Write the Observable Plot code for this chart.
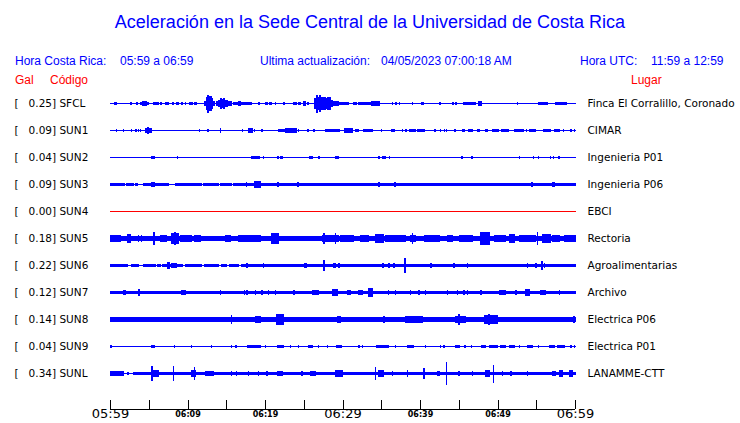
<!DOCTYPE html>
<html><head><meta charset="utf-8">
<script src="https://cdn.jsdelivr.net/npm/d3@7"></script>
<script src="https://cdn.jsdelivr.net/npm/@observablehq/plot@0.6"></script>
<style>
body{margin:0;background:#fff;}
#wrap{width:740px;height:423px;overflow:hidden;}
#head{position:relative;width:740px;height:88px;font-family:"Liberation Sans",Arial,sans-serif;}
#head div{position:absolute;white-space:pre;font-size:12px;line-height:14px;color:#0000ff;}
#head div.title{left:0;width:740px;text-align:center;top:11px;font-size:18px;line-height:22px;}
#head div.red{color:#ff0000;}
#chart svg{display:block;}
</style></head><body>
<div id="wrap"><div id="head"></div><div id="chart"></div></div>
<script>
// ---------- texts ----------
const titleText = "Aceleración en la Sede Central de la Universidad de Costa Rica";
const headerRow1 = [["Hora Costa Rica:",15],["05:59 a 06:59",120],["Ultima actualización:",260],["04/05/2023 07:00:18 AM",381],["Hora UTC:",580],["11:59 a 12:59",651]];
const headerRow2 = [["Gal",15],["Código",50],["Lugar",631]];

// ---------- stations ----------
const stations = ["SFCL","SUN1","SUN2","SUN3","SUN4","SUN5","SUN6","SUN7","SUN8","SUN9","SUNL"];
const places = ["Finca El Corralillo, Coronado","CIMAR","Ingenieria P01","Ingenieria P06","EBCI","Rectoria","Agroalimentarias","Archivo","Electrica P06","Electrica P01","LANAMME-CTT"];
const peakGal = [0.25,0.09,0.04,0.09,0.00,0.18,0.22,0.12,0.14,0.04,0.34];
// background noise half-amplitude of each trace (gal)
const baseGal = [0.014,0.014,0.014,0.02,0.014,0.078,0.022,0.047,0.056,0.014,0.02];

// bursts: [start minute after 05:59, end minute, half-amplitude gal]
const burstsSFCL = [[0.6,0.9,0.044],[2.7,2.8,0.039],[3.45,3.55,0.039],[3.9,4.0,0.044],[4.2,4.7,0.056],[4.85,4.95,0.039],[5.6,6.25,0.044],[6.55,6.65,0.036],[7.1,7.5,0.044],[8.05,8.15,0.039],[8.6,8.9,0.039],[9.25,9.3,0.036],[9.7,9.75,0.036],[10.3,10.65,0.044],[10.85,11.1,0.044],
 [12.2,12.45,0.083],[12.45,12.6,0.167],[12.6,12.75,0.25],[12.75,12.9,0.2],[12.9,13.05,0.22],[13.05,13.2,0.14],[13.2,13.5,0.083],
 [13.8,14.0,0.083],[14.0,14.2,0.111],[14.2,14.4,0.139],[14.4,14.6,0.12],[14.6,14.8,0.139],[14.8,15.1,0.097],[15.1,15.7,0.069],[15.9,16.4,0.039],[16.6,16.8,0.056],[16.8,17.0,0.05],[17.0,18.3,0.042],
 [19.15,19.25,0.036],[20.0,20.3,0.042],[20.6,20.9,0.042],[21.3,21.4,0.036],[22.4,22.5,0.036],[23.7,24.1,0.044],[24.35,24.55,0.039],[24.95,25.2,0.056],[25.5,25.55,0.036],
 [26.4,26.6,0.139],[26.6,26.8,0.25],[26.8,27.0,0.194],[27.0,27.2,0.236],[27.2,27.5,0.167],[27.5,27.8,0.194],[27.8,28.1,0.139],[28.1,28.4,0.167],[28.4,28.7,0.111],[28.7,29.0,0.083],[29.0,29.5,0.069],[29.5,30.8,0.042],
 [31.45,31.75,0.044],[32.0,33.8,0.042],[33.8,34.0,0.056],[34.0,34.5,0.083],[34.5,34.8,0.061],
 [36.4,36.45,0.036],[36.9,36.95,0.036],[37.35,37.4,0.036],[39.0,39.05,0.036],[40.2,40.45,0.044],[42.55,42.6,0.036],[44.25,44.3,0.036],[44.6,44.65,0.036],[45.55,47.2,0.044],[47.5,47.95,0.064],[52.55,52.6,0.036],[55.3,56.5,0.044],[57.5,58.85,0.044]];
const burstsSUN1 = [[0.86,0.9,0.042],[1.72,1.76,0.042],[2.72,2.76,0.042],[3.32,3.36,0.042],[3.66,3.7,0.042],[3.92,3.96,0.042],[4.6,4.85,0.083],[4.85,4.95,0.103],[4.95,5.4,0.064],[11.55,11.6,0.036],[12.63,12.68,0.042],[14.2,14.25,0.075],[17.1,17.15,0.042],[17.9,18.4,0.056],[18.6,18.65,0.039],[19.6,19.65,0.042],[21.7,22.5,0.047],[22.6,24.0,0.064],[24.27,24.3,0.039],[25.5,25.55,0.039],[26.3,26.35,0.042],[27.8,29.3,0.047],[29.5,29.55,0.039],[30.3,31.25,0.056],[31.7,32.1,0.042],[32.75,33.85,0.044],[35.0,35.05,0.036],[36.35,36.65,0.047],[37.7,37.75,0.036],[38.15,38.2,0.036],[38.6,39.45,0.044],[39.65,40.6,0.05],[41.9,41.95,0.036],[42.65,42.7,0.036],[43.1,43.15,0.036],[43.4,43.45,0.036],[44.5,44.55,0.036],[45.45,45.8,0.042],[46.25,46.75,0.047],[47.4,47.65,0.042],[48.5,48.75,0.042],[49.35,50.1,0.047],[50.5,51.4,0.047],[52.25,53.35,0.047],[53.75,53.8,0.036],[54.1,54.95,0.044],[55.95,56.8,0.044],[57.35,58.05,0.044],[58.5,58.55,0.036],[59.45,59.5,0.036],[59.9,59.95,0.036]];
const burstsSUN2 = [[5.4,5.8,0.047],[8.7,8.75,0.031],[18.2,19.25,0.042],[19.83,19.87,0.036],[21.55,21.8,0.042],[22.05,22.3,0.042],[25.7,26.1,0.042],[26.94,26.98,0.031],[29.1,29.45,0.042],[34.6,34.8,0.036],[35.2,35.5,0.042],[36.08,36.12,0.036],[45.4,45.44,0.031],[46.68,46.72,0.031],[52.8,52.84,0.031],[54.6,54.64,0.036],[55.26,55.3,0.031],[56.8,56.84,0.036],[57.2,57.24,0.036],[57.82,58.0,0.042]];
const burstsSUN3 = [[0,1.9,0.05],[2.15,3.0,0.05],[3.3,3.5,0.05],[4.3,7.55,0.05],[8.4,11.85,0.05],[12.1,14.0,0.05],[14.2,15.7,0.05],[15.95,60,0.05],
 [5.3,5.7,0.075],[17.6,17.65,0.056],[18.6,19.4,0.092],[18.9,19.0,0.11],[21.6,21.75,0.083],[24.2,24.3,0.069],[34.6,34.75,0.061],[36.7,36.8,0.056],[54.4,54.5,0.056],[57.1,57.3,0.069]];
const burstsSUN4 = [];
const burstsSUN5 = [[0,1.3,0.097],[2.28,2.6,0.125],[3.64,3.7,0.092],[4.0,4.05,0.092],[5.6,5.73,0.194],[6.47,7.33,0.092],[7.97,8.84,0.153],[8.3,8.4,0.17],[9.05,10.56,0.097],[10.9,11.64,0.092],[12.28,13.58,0.083],[14.87,15.52,0.097],[16.6,19.4,0.097],[20.9,21.68,0.153],[21.77,23.5,0.083],[24.7,26.94,0.083],[27.37,29.53,0.111],[27.55,27.65,0.153],[29.05,29.15,0.153],[29.74,31.47,0.092],[32.33,33.41,0.092],[34.27,35.34,0.125],[35.56,38.15,0.097],[38.79,39.44,0.111],[38.98,39.05,0.139],[40.52,42.46,0.092],[43.53,44.18,0.097],[45.04,46.77,0.092],[47.84,48.92,0.167],[48.35,48.45,0.181],[49.57,51.08,0.097],[51.51,52.16,0.125],[52.8,54.96,0.097],[55.13,55.22,0.181],[55.82,56.9,0.125],[57.11,57.97,0.092],[58.62,60,0.092]];
const burstsSUN6 = [[0,1.08,0.047],[1.29,2.28,0.047],[2.72,3.66,0.047],[4.31,5.82,0.047],[6.16,6.47,0.047],[6.77,9.4,0.047],[9.7,11.85,0.047],[12.16,14.01,0.047],[14.35,15.09,0.047],[15.39,16.59,0.047],[17.03,18.97,0.047],[19.18,20.26,0.047],[20.47,60,0.047],
 [7.37,7.63,0.103],[7.97,8.62,0.069],[17.63,17.8,0.069],[19.8,19.86,0.064],[25.09,25.34,0.083],[27.56,27.63,0.139],[28.88,29.09,0.075],[29.5,29.56,0.075],[35.2,35.25,0.069],[35.96,36.02,0.064],[36.6,36.68,0.069],[38.02,38.1,0.222],[41.34,41.42,0.075],[44.37,44.43,0.064],[46.1,46.15,0.056],[53.85,53.9,0.064],[54.93,54.99,0.064],[55.7,55.77,0.131],[56.0,56.06,0.069]];
const burstsSUN7 = [[1.72,2.03,0.064],[3.66,3.84,0.092],[9.27,9.7,0.064],[14.2,14.25,0.064],[17.35,17.4,0.056],[17.65,17.7,0.056],[18.73,18.78,0.056],[19.6,19.65,0.056],[20.45,20.5,0.056],[21.32,21.37,0.056],[23.7,23.75,0.056],[26.08,26.94,0.056],[28.66,29.31,0.111],[30.6,31.03,0.064],[32.11,32.54,0.064],[33.41,33.84,0.119],[35.88,35.94,0.069],[36.83,36.88,0.056],[38.77,38.82,0.056],[39.85,39.9,0.056],[40.7,40.76,0.056],[43.5,43.56,0.064],[44.8,44.86,0.056],[45.66,45.72,0.075],[46.1,46.15,0.056],[47.8,47.9,0.069],[50.22,51.08,0.056],[52.35,52.4,0.056],[53.66,54.09,0.092],[55.6,56.25,0.075],[57.95,58.0,0.064]];
const burstsSUN8 = [[0,0.65,0.056],[5.39,6.03,0.083],[6.45,6.5,0.064],[7.09,7.14,0.075],[8.17,8.22,0.075],[9.68,9.73,0.064],[10.54,10.59,0.064],[11.83,11.88,0.064],[13.9,13.95,0.064],[15.62,15.68,0.117],[17.03,19.61,0.069],[18.75,19.4,0.092],[21.42,22.41,0.139],[21.8,21.95,0.153],[22.63,25.22,0.069],[25.65,29.31,0.069],[29.31,29.74,0.092],[32.11,32.54,0.075],[34.27,35.99,0.075],[35.3,35.4,0.092],[36.85,37.28,0.075],[38.15,40.3,0.092],[40.95,41.81,0.069],[42.67,43.32,0.083],[44.61,45.91,0.111],[45.0,45.08,0.139],[46.34,48.06,0.083],[48.28,49.96,0.119],[48.9,49.0,0.139],[50.22,53.23,0.075],[53.66,54.53,0.075],[55.39,56.25,0.083],[56.47,60,0.069],[59.85,59.95,0.092]];
const burstsSUN9 = [[0,0.2,0.036],[5.3,5.73,0.047],[8.3,8.34,0.036],[10.54,10.58,0.036],[13.04,13.08,0.036],[15.63,15.67,0.042],[16.23,16.27,0.036],[17.8,19.4,0.042],[20.02,20.06,0.036],[21.55,22.41,0.042],[23.26,23.3,0.036],[24.33,24.37,0.036],[25.65,26.08,0.042],[26.92,26.96,0.036],[28.0,28.04,0.036],[29.22,29.87,0.042],[32.09,32.13,0.036],[32.52,32.56,0.036],[34.35,35.99,0.042],[36.83,36.87,0.036],[38.36,39.22,0.042],[40.71,40.75,0.036],[42.65,42.69,0.036],[43.08,43.12,0.036],[44.53,45.13,0.039],[45.8,45.84,0.036],[46.66,46.7,0.036],[47.97,48.49,0.039],[48.92,50.0,0.042],[50.43,51.08,0.039],[51.51,52.16,0.039],[52.78,52.82,0.036],[53.88,54.53,0.039],[55.28,55.32,0.036],[56.68,57.33,0.042],[57.76,58.62,0.039],[59.46,59.5,0.036],[59.89,59.93,0.036]];
const burstsSUNL = [[0,1.72,0.056],[2.3,2.45,0.047],[3.0,3.9,0.047],[4.1,60,0.047],
 [5.37,5.42,0.208],[5.6,6.25,0.092],[8.17,8.22,0.208],[10.56,11.08,0.092],[10.89,10.94,0.194],[12.28,13.36,0.064],[15.63,15.68,0.064],[16.27,16.32,0.064],[17.87,17.92,0.064],[19.16,19.21,0.064],[20.24,20.29,0.064],[21.55,22.2,0.069],[24.76,24.81,0.064],[25.86,26.51,0.083],[29.09,29.96,0.111],[34.25,34.3,0.194],[34.7,35.34,0.092],[36.4,36.45,0.069],[38.34,38.4,0.092],[40.5,40.55,0.139],[42.24,42.46,0.083],[43.43,43.48,0.333],[45.02,45.07,0.064],[46.75,46.8,0.064],[48.49,48.92,0.092],[49.42,49.47,0.25],[50.63,50.68,0.064],[51.7,51.75,0.064],[53.86,53.91,0.075],[57.11,57.54,0.083],[57.97,58.41,0.092],[59.27,59.7,0.092]];
const burstLists = [burstsSFCL,burstsSUN1,burstsSUN2,burstsSUN3,burstsSUN4,burstsSUN5,burstsSUN6,burstsSUN7,burstsSUN8,burstsSUN9,burstsSUNL];

// ---------- time axis ----------
const tickTimes = ["05:59","06:04","06:09","06:14","06:19","06:24","06:29","06:34","06:39","06:44","06:49","06:54","06:59"];
const bigLabels = ["05:59","06:29","06:59"];
const smallLabels = ["06:09","06:19","06:39","06:49"];
const startTime = "05:59", endTime = "06:59";

const clock = t => { const [h, m] = t.split(":").map(Number); return h * 60 + m; };
const toMin = t => clock(t) - clock(startTime);

// ---------- header ----------
const head = document.getElementById("head");
function addDiv(text, cls, left, top) {
  const d = document.createElement("div");
  d.textContent = text; if (cls) d.className = cls;
  if (left != null) d.style.left = left + "px";
  if (top != null) d.style.top = top + "px";
  head.appendChild(d);
}
addDiv(titleText, "title");
headerRow1.forEach(([t, x]) => addDiv(t, "", x, 54));
headerRow2.forEach(([t, x]) => addDiv(t, "red", x, 73));

// ---------- chart ----------
const ROW_GAL = 0.75;                 // gal between station baselines
const PX_PER_GAL = 36;
const Y_TOP = -15.5 / PX_PER_GAL, Y_BOT = (321 - 15.5) / PX_PER_GAL;

const rows = stations.map((s, i) => ({
  station: s, place: places[i], peak: peakGal[i], off: i * ROW_GAL,
  color: peakGal[i] === 0 ? "#ff0000" : "#0000ff"
}));
const segs = [];
rows.forEach((r, i) => {
  segs.push({x1: 0, x2: toMin(endTime), a: baseGal[i], off: r.off, color: r.color});
  for (const [t1, t2, a] of burstLists[i]) segs.push({x1: t1, x2: t2, a, off: r.off, color: r.color});
});

const chart = Plot.plot({
  width: 740, height: 335,
  marginTop: 0, marginBottom: 14, marginLeft: 110, marginRight: 165,
  x: {domain: [0, toMin(endTime)], axis: null},
  y: {domain: [Y_TOP, Y_BOT], reverse: true, axis: null},
  style: {fontFamily: "DejaVu Sans", background: "#fff", color: "#000"},
  marks: [
    Plot.rect(segs, {x1: "x1", x2: "x2", y1: d => d.off - d.a, y2: d => d.off + d.a, fill: d => d.color,
      insetLeft: -0.5, insetRight: -0.5, shapeRendering: "crispEdges"}),
    Plot.text(rows, {y: "off", text: d => `[${d.peak.toFixed(2).padStart(7, "\u00a0")}] ${d.station}`,
      frameAnchor: "left", textAnchor: "start", dx: -96, fontSize: 10.5, fill: "#000"}),
    Plot.text(rows, {y: "off", text: "place", frameAnchor: "right", textAnchor: "start", dx: 12, fontSize: 10.5, fill: "#000"}),
    Plot.ruleY([Y_BOT], {x1: 0, x2: toMin(endTime), stroke: "#000", shapeRendering: "crispEdges"}),
    Plot.tickX(tickTimes, {x: toMin, insetTop: 312, stroke: "#000", shapeRendering: "crispEdges"}),
    Plot.text(bigLabels, {x: toMin, text: d => d, frameAnchor: "bottom", dy: 8, fontSize: 13, fill: "#000"}),
    Plot.text(smallLabels, {x: toMin, text: d => d, frameAnchor: "bottom", dy: 7.5, fontSize: 8, fontWeight: "bold", fill: "#000"})
  ]
});
document.getElementById("chart").appendChild(chart);
</script>
</body></html>
